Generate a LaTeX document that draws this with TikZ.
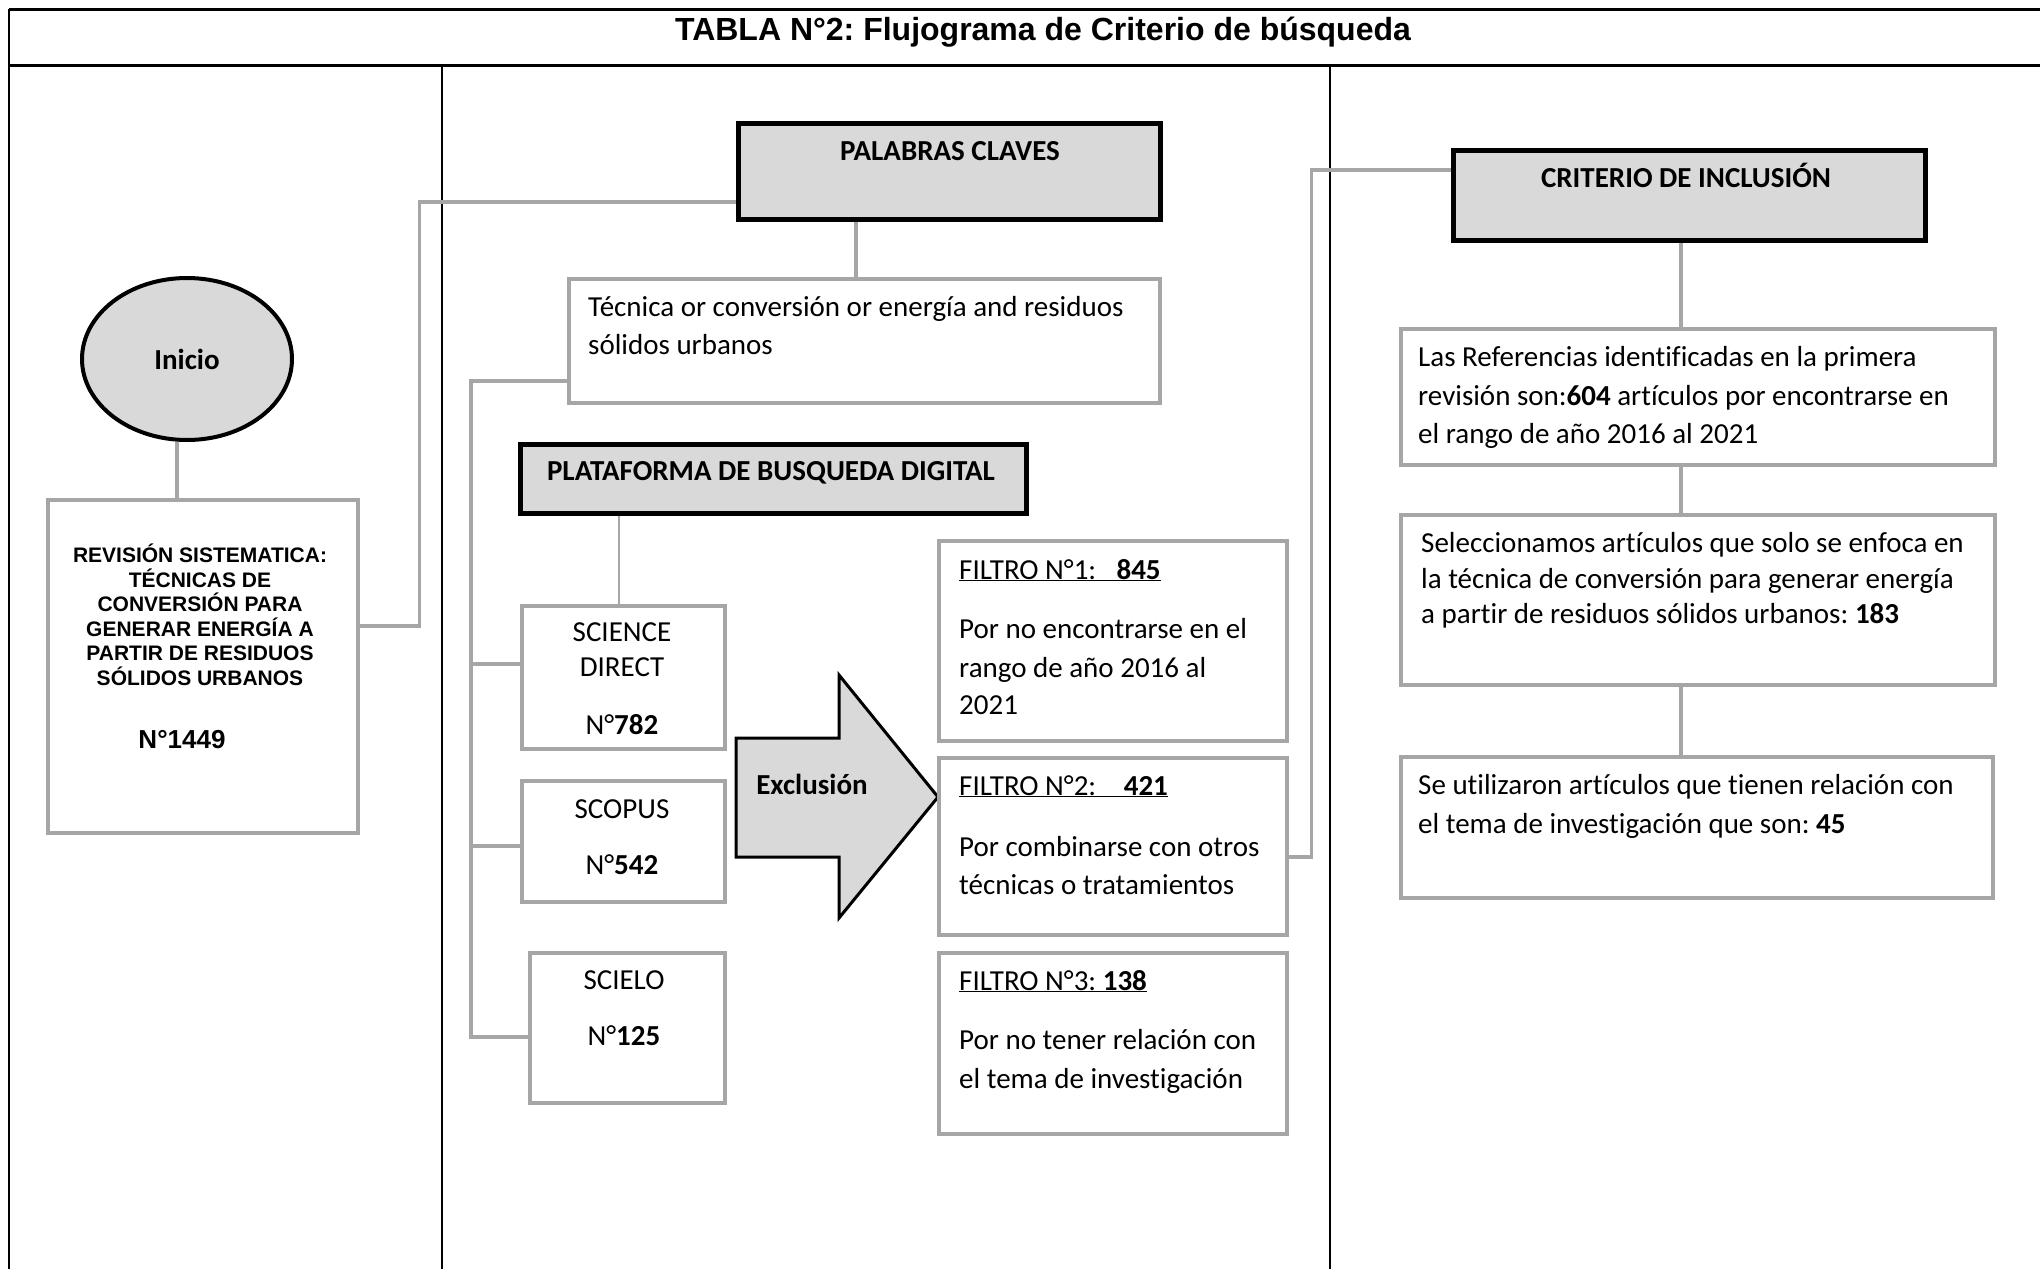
\documentclass[tikz,border=0pt]{standalone}
\usepackage{fontspec}
\setmainfont{Carlito}[Ligatures=NoCommon]
\newfontfamily\arialf{Liberation Sans}
\usetikzlibrary{calc,shapes.geometric}
\definecolor{keyfill}{HTML}{D9D9D9}
\definecolor{boxgray}{HTML}{A6A6A6}
\frenchspacing
\begin{document}
\begin{tikzpicture}[x=1pt,y=-1pt,
  gbox/.style={draw=boxgray,line width=3.5pt,fill=white,rectangle,inner sep=0pt,anchor=north west},
  kbox/.style={draw=black,line width=4.5pt,fill=keyfill,rectangle,inner sep=0pt,anchor=north west},
  conn/.style={draw=boxgray,line width=3.5pt},
  thinconn/.style={draw=boxgray,line width=1.5pt},
  frame/.style={draw=black,line width=2pt},
  tx/.style={inner sep=0pt,anchor=base west,font=\fontsize{29}{36}\selectfont},
  tc/.style={inner sep=0pt,anchor=base,font=\fontsize{29}{36}\selectfont},
  tb/.style={inner sep=0pt,anchor=base,font=\fontsize{29}{36}\selectfont\bfseries},
  rv/.style={inner sep=0pt,anchor=base,font=\arialf\bfseries\fontsize{21}{25}\selectfont},
]
\useasboundingbox (0,0) rectangle (2040,1269);

% table frame
\draw[draw=black,line width=3pt] (9,9) -- (2040,9);
\draw[draw=black,line width=3pt] (9,65) -- (2040,65);
\draw[frame] (9,9) -- (9,1269);
\draw[frame] (442,65) -- (442,1269);
\draw[frame] (1330,65) -- (1330,1269);
\node[inner sep=0pt,anchor=base,font=\arialf\bfseries\fontsize{32}{38}\selectfont] (title) at (1043,40) {TABLA N°2: Flujograma de Criterio de búsqueda};

% column 1
\node[ellipse,draw=black,line width=4pt,fill=keyfill,minimum width=210pt,minimum height=162pt,inner sep=0pt,font=\fontsize{29}{36}\selectfont\bfseries] (ini) at (187,359) {Inicio};
\node[gbox,minimum width=310pt,minimum height=333pt] (rev) at (46,498) {};
\node[rv] (r1) at (200,562) {REVISIÓN SISTEMATICA:};
\node[rv] (r2) at (200,587) {TÉCNICAS DE};
\node[rv] (r3) at (200,611) {CONVERSIÓN PARA};
\node[rv] (r4) at (200,636) {GENERAR ENERGÍA A};
\node[rv] (r5) at (200,660) {PARTIR DE RESIDUOS};
\node[rv] (r6) at (200,685) {SÓLIDOS URBANOS};
\node[inner sep=0pt,anchor=base,font=\arialf\bfseries\fontsize{26}{30}\selectfont] (n1449) at (182,748) {N°1449};

% column 2
\node[kbox,minimum width=422pt,minimum height=96pt] (pal) at (736,121) {};
\node[tb] (palt) at (950,160) {PALABRAS CLAVES};
\node[gbox,minimum width=591pt,minimum height=124pt] (tec) at (567,277) {};
\node[tx] (tec1) at (588,316) {Técnica or conversión or energía and residuos};
\node[tx] (tec2) at (588,354) {sólidos urbanos};
\node[kbox,minimum width=506pt,minimum height=69pt] (plat) at (518,442) {};
\node[tb] (platt) at (771,480) {PLATAFORMA DE BUSQUEDA DIGITAL};

\node[gbox,minimum width=203pt,minimum height=143pt] (sd) at (520,604) {};
\node[tc] (sd1) at (622,641) {SCIENCE};
\node[tc] (sd2) at (622,676) {DIRECT};
\node[tc] (sd3) at (622,734) {N°\textbf{782}};
\node[gbox,minimum width=203pt,minimum height=121pt] (sc) at (520,779) {};
\node[tc] (sc1) at (622,818) {SCOPUS};
\node[tc] (sc2) at (622,874) {N°\textbf{542}};
\node[gbox,minimum width=195pt,minimum height=150pt] (se) at (528,951) {};
\node[tc] (se1) at (624,989) {SCIELO};
\node[tc] (se2) at (624,1045) {N°\textbf{125}};

\draw[draw=black,line width=3pt,fill=keyfill,line join=miter] (736,738) -- (839,738) -- (839,675) -- (938,797) -- (839,918) -- (839,857) -- (736,857) -- cycle;
\node[tb] (excl) at (812,794) {Exclusión};

\node[gbox,minimum width=348pt,minimum height=200pt] (f1) at (937,539) {};
\node[tx] (f1a) at (959,579) {\underline{FILTRO N°1:\hspace{0.7em}\textbf{845}}};
\node[tx] (f1b) at (959,638) {Por no encontrarse en el};
\node[tx] (f1c) at (959,677) {rango de año 2016 al};
\node[tx] (f1d) at (959,714) {2021};
\node[gbox,minimum width=348pt,minimum height=177pt] (f2) at (937,756) {};
\node[tx] (f2a) at (959,795) {\underline{FILTRO N°2:\hspace{0.95em}\textbf{421}}};
\node[tx] (f2b) at (959,856) {Por combinarse con otros};
\node[tx] (f2c) at (959,894) {técnicas o tratamientos};
\node[gbox,minimum width=348pt,minimum height=181pt] (f3) at (937,951) {};
\node[tx] (f3a) at (959,990) {\underline{FILTRO N°3: \textbf{138}}};
\node[tx] (f3b) at (959,1049) {Por no tener relación con};
\node[tx] (f3c) at (959,1088) {el tema de investigación};

% column 3
\node[kbox,minimum width=472pt,minimum height=90pt] (crit) at (1451,148) {};
\node[tb] (critt) at (1686,187) {CRITERIO DE INCLUSIÓN};
\node[gbox,minimum width=594pt,minimum height=136pt] (b1) at (1399,327) {};
\node[tx] (b1a) at (1418,366) {Las Referencias identificadas en la primera};
\node[tx] (b1b) at (1418,405) {revisión son:\textbf{604} artículos por encontrarse en};
\node[tx] (b1c) at (1418,443) {el rango de año 2016 al 2021};
\node[gbox,minimum width=594pt,minimum height=170pt] (b2) at (1399,513) {};
\node[tx] (b2a) at (1421,552) {Seleccionamos artículos que solo se enfoca en};
\node[tx] (b2b) at (1421,588) {la técnica de conversión para generar energía};
\node[tx] (b2c) at (1421,623) {a partir de residuos sólidos urbanos: \textbf{183}};
\node[gbox,minimum width=592pt,minimum height=141pt] (b3) at (1399,755) {};
\node[tx] (b3a) at (1418,794) {Se utilizaron artículos que tienen relación con};
\node[tx] (b3b) at (1418,833) {el tema de investigación que son: \textbf{45}};

% connectors
\draw[conn] ([xshift=-10pt]ini.south) -- ([xshift=-10pt]ini.south |- rev.north);
\draw[conn] ([yshift=-128pt]rev.north east) -- ++(60,0) |- ([yshift=-81pt]pal.north west);
\draw[conn] ([xshift=120pt]pal.south west) -- ([xshift=120pt]pal.south west |- tec.north);
\draw[conn] ([yshift=-104pt]tec.north west) -- ++(-96,0) |- ([yshift=-86pt]se.north west);
\draw[conn] ([yshift=-60pt]sd.north west) -- ++(-49,0);
\draw[conn] ([yshift=-67pt]sc.north west) -- ++(-49,0);
\draw[thinconn] ([xshift=101pt]plat.south west) -- ([xshift=101pt]plat.south west |- sd.north);
\draw[conn] ([yshift=-101pt]f2.north east) -- ++(23,0) |- ([yshift=-22pt]crit.north west);
\draw[conn] ([xshift=230pt]crit.south west) -- ([xshift=230pt]crit.south west |- b1.north);
\draw[conn] ([xshift=282pt]b1.south west) -- ([xshift=282pt]b2.north west);
\draw[conn] ([xshift=282pt]b2.south west) -- ([xshift=282pt]b3.north west);
\end{tikzpicture}
\end{document}
